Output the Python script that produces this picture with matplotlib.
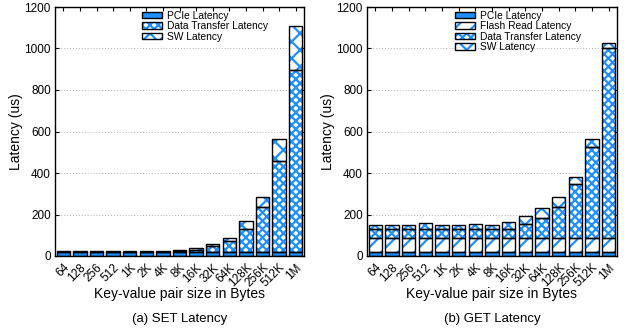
import matplotlib
matplotlib.use("Agg")
import matplotlib.pyplot as plt
from matplotlib.patches import Patch
import numpy as np

plt.rcParams['font.family'] = ['Liberation Sans', 'DejaVu Sans']
plt.rcParams['hatch.linewidth'] = 1.6

sizes = ['64', '128', '256', '512', '1K', '2K', '4K', '8K', '16K', '32K',
         '64K', '128K', '256K', '512K', '1M']

# SET latency breakdown (us)
set_pcie = [19, 19, 19, 19, 19, 19, 19, 19, 19, 19, 19, 19, 19, 19, 19]
set_transfer = [1, 1, 1, 1, 1, 1, 1, 3, 10, 28, 55, 109, 219, 437, 877]
set_sw = [2, 6, 2, 2, 6, 2, 2, 8, 8, 11, 11, 41, 48, 106, 214]

# GET latency breakdown (us)
get_pcie = [18, 18, 18, 18, 18, 18, 18, 18, 18, 18, 18, 18, 18, 18, 18]
get_flash = [70, 70, 70, 70, 70, 70, 70, 70, 70, 70, 70, 70, 70, 70, 70]
get_transfer = [42, 42, 42, 42, 42, 42, 42, 40, 44, 66, 95, 150, 259, 439, 915]
get_sw = [21, 21, 21, 27, 21, 21, 24, 20, 34, 37, 47, 45, 32, 35, 24]

BLUE = '#1e90ff'
STYLES = {
    'PCIe Latency': dict(face=BLUE, hatch=None),
    'Flash Read Latency': dict(face='white', hatch='//'),
    'Data Transfer Latency': dict(face='white', hatch='xxxx'),
    'SW Latency': dict(face='white', hatch='xx'),
}


def draw_segment(ax, x, heights, bottoms, name, width=0.8):
    st = STYLES[name]
    # fill + blue hatch
    ax.bar(x, heights, width, bottom=bottoms, color=st['face'],
           edgecolor=BLUE, hatch=st['hatch'], linewidth=0, zorder=2)
    # black outline
    ax.bar(x, heights, width, bottom=bottoms, fill=False,
           edgecolor='black', linewidth=1.0, zorder=3)


def legend_handle(name):
    st = STYLES[name]
    return (Patch(facecolor=st['face'], edgecolor=BLUE, hatch=st['hatch'], linewidth=0),
            Patch(fill=False, edgecolor='black', linewidth=1.0))


def panel(ax, series, caption):
    x = np.arange(len(sizes))
    bottom = np.zeros(len(sizes))
    handles, labels = [], []
    for name, vals in series:
        vals = np.asarray(vals, dtype=float)
        draw_segment(ax, x, vals, bottom, name)
        bottom = bottom + vals
        handles.append(legend_handle(name))
        labels.append(name)

    ax.set_xlim(-0.5, len(sizes) - 0.5)
    ax.set_ylim(0, 1200)
    ax.set_yticks(range(0, 1201, 200))
    ax.set_xticks(x)
    ax.set_xticklabels(sizes, rotation=45, ha='right', va='top',
                       rotation_mode='anchor', fontsize=8.5)
    ax.tick_params(axis='y', labelsize=8.5, pad=3)
    ax.tick_params(direction='in', length=3, width=0.8, top=True, right=True)
    ax.tick_params(axis='x', pad=4)
    for sp in ax.spines.values():
        sp.set_linewidth(1.0)
    ax.yaxis.grid(True, linestyle=(0, (1, 2)), color='#b0b0b0', linewidth=0.7, zorder=0)
    ax.set_axisbelow(True)
    ax.set_ylabel('Latency (us)', fontsize=10, labelpad=1)
    ax.set_xlabel('Key-value pair size in Bytes', fontsize=10, labelpad=-2)
    ax.legend(handles, labels, loc='upper left', bbox_to_anchor=(0.35, 0.985),
              frameon=False, fontsize=7.4, borderpad=0, borderaxespad=0,
              labelspacing=0.05, handlelength=1.95, handleheight=0.6,
              handletextpad=0.5)
    ax.text(0.5, -0.255, caption, transform=ax.transAxes, ha='center',
            va='center', fontsize=9.5)


fig = plt.figure(figsize=(6.26, 3.30), dpi=100)
ax1 = fig.add_axes([55 / 626, 74 / 330, 249 / 626, 249 / 330])
ax2 = fig.add_axes([367 / 626, 74 / 330, 250 / 626, 249 / 330])

panel(ax1, [('PCIe Latency', set_pcie),
            ('Data Transfer Latency', set_transfer),
            ('SW Latency', set_sw)], '(a) SET Latency')
panel(ax2, [('PCIe Latency', get_pcie),
            ('Flash Read Latency', get_flash),
            ('Data Transfer Latency', get_transfer),
            ('SW Latency', get_sw)], '(b) GET Latency')

fig.savefig('out.png', dpi=100)
